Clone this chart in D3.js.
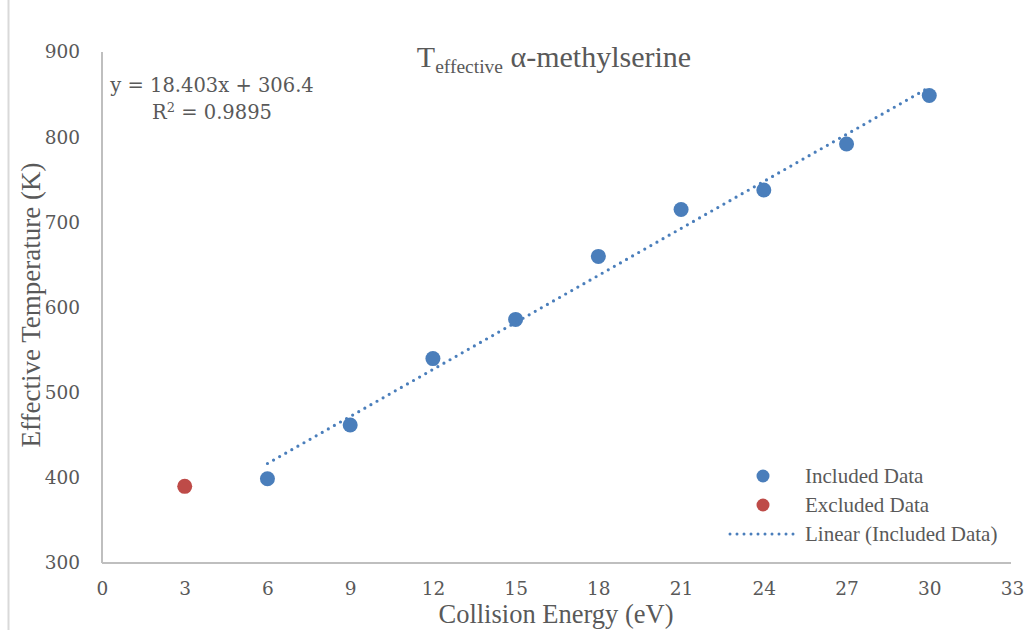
<!DOCTYPE html>
<html>
<head>
<meta charset="utf-8">
<script src="https://cdn.jsdelivr.net/npm/d3@7"></script>
<style>
  body { margin: 0; background: #fff; }
  svg text { fill: #595959; }
</style>
</head>
<body>
<svg id="chart" width="1034" height="630"></svg>
<script>
// data
var includedEnergy = [6, 9, 12, 15, 18, 21, 24, 27, 30];
var includedTemp = [399, 462, 540, 586, 660, 715, 738, 792, 849];
var excludedEnergy = [3];
var excludedTemp = [390];
var xTicks = [0, 3, 6, 9, 12, 15, 18, 21, 24, 27, 30, 33];
var yTicks = [300, 400, 500, 600, 700, 800, 900];
var fitSlope = 18.403;
var fitIntercept = 306.4;
var fitR2 = 0.9895;

var svg = d3.select("#chart");
var blue = "#4a7ebb", red = "#be4b48", axisGrey = "#bfbfbf";
var numFont = "'DejaVu Serif', serif";
var textFont = "'Liberation Serif', 'Times New Roman', Times, serif";

var x = d3.scaleLinear().domain([0, 33]).range([102, 1012]);
var y = d3.scaleLinear().domain([300, 900]).range([563, 52]);

// chart border on the left edge
svg.append("line").attr("x1", 8.5).attr("x2", 8.5).attr("y1", 0).attr("y2", 630)
  .attr("stroke", "#d9d9d9").attr("stroke-width", 2);

// axes
var xAxis = svg.append("g").attr("transform", "translate(0," + y(300) + ")")
  .call(d3.axisBottom(x).tickValues(xTicks).tickSize(0).tickPadding(19));
var yAxis = svg.append("g").attr("transform", "translate(" + x(0) + ",0)")
  .call(d3.axisLeft(y).tickValues(yTicks).tickSize(0).tickPadding(22));
[xAxis, yAxis].forEach(function (g) {
  g.select(".domain").attr("stroke", axisGrey).attr("stroke-width", 2);
  g.selectAll("text").attr("font-family", numFont).attr("font-size", 18.5).attr("fill", "#595959");
});
xAxis.select(".domain").attr("d", "M" + x(0) + ",0H1011");
yAxis.select(".domain").attr("d", "M0," + y(900) + "V" + y(300));

// axis titles
svg.append("text").attr("x", 556).attr("y", 623).attr("text-anchor", "middle")
  .attr("font-family", textFont).attr("font-size", 26.5).text("Collision Energy (eV)");
svg.append("text").attr("transform", "translate(40,305) rotate(-90)").attr("text-anchor", "middle")
  .attr("font-family", textFont).attr("font-size", 27).text("Effective Temperature (K)");

// title
var title = svg.append("text").attr("x", 554).attr("y", 67).attr("text-anchor", "middle")
  .attr("font-family", textFont).attr("font-size", 30);
title.append("tspan").text("T");
title.append("tspan").attr("font-size", 19.5).attr("dy", 6).text("effective");
title.append("tspan").attr("dy", -6).text(" \u03b1-methylserine");

// points
svg.append("g").selectAll("circle").data(includedEnergy).enter().append("circle")
  .attr("cx", function (d) { return x(d); })
  .attr("cy", function (d, i) { return y(includedTemp[i]); })
  .attr("r", 7.5).attr("fill", blue);
svg.append("g").selectAll("circle").data(excludedEnergy).enter().append("circle")
  .attr("cx", function (d) { return x(d); })
  .attr("cy", function (d, i) { return y(excludedTemp[i]); })
  .attr("r", 7.5).attr("fill", red);

// linear trendline over the included range
var fitX = d3.extent(includedEnergy);
svg.append("path")
  .datum(fitX.map(function (v) { return [v, fitSlope * v + fitIntercept]; }))
  .attr("d", d3.line().x(function (d) { return x(d[0]); }).y(function (d) { return y(d[1]); }))
  .attr("fill", "none").attr("stroke", blue).attr("stroke-width", 3.2)
  .attr("stroke-linecap", "round").attr("stroke-dasharray", "0 7");

// equation label
svg.append("text").attr("x", 212).attr("y", 92).attr("text-anchor", "middle")
  .attr("font-family", numFont).attr("font-size", 19.5)
  .text("y = " + fitSlope + "x + " + fitIntercept);
var r2 = svg.append("text").attr("x", 212).attr("y", 119).attr("text-anchor", "middle")
  .attr("font-family", numFont).attr("font-size", 19.5);
r2.append("tspan").text("R");
r2.append("tspan").attr("font-size", 13).attr("dy", -7).text("2");
r2.append("tspan").attr("dy", 7).text(" = " + fitR2);

// legend
var legend = [
  { label: "Included Data", type: "dot", color: blue },
  { label: "Excluded Data", type: "dot", color: red },
  { label: "Linear (Included Data)", type: "line", color: blue }
];
var lg = svg.append("g").selectAll("g").data(legend).enter().append("g")
  .attr("transform", function (d, i) { return "translate(0," + (476 + i * 29) + ")"; });
lg.filter(function (d) { return d.type === "dot"; }).append("circle")
  .attr("cx", 763).attr("r", 6.5).attr("fill", function (d) { return d.color; });
lg.filter(function (d) { return d.type === "line"; }).append("line")
  .attr("x1", 730).attr("x2", 797).attr("stroke", function (d) { return d.color; })
  .attr("stroke-width", 3).attr("stroke-linecap", "round").attr("stroke-dasharray", "0 7");
lg.append("text").attr("x", 805).attr("y", 7).attr("font-family", textFont).attr("font-size", 21)
  .text(function (d) { return d.label; });
</script>
</body>
</html>
